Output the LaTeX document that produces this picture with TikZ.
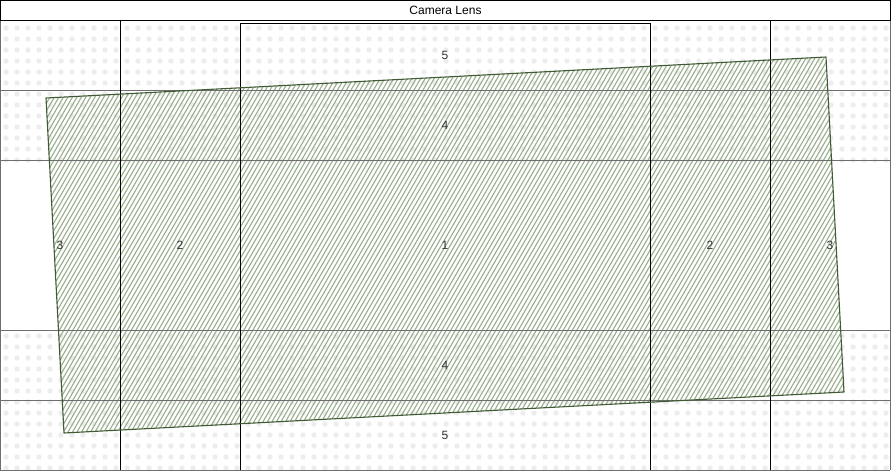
\documentclass[tikz,border=0pt]{standalone}
\usepackage{fontspec}
\setmainfont{Liberation Sans}
\definecolor{dotc}{HTML}{EDEDED}
\definecolor{gridc}{HTML}{6E6E6E}
\definecolor{hatchc}{HTML}{9DB090}
\definecolor{edgec}{HTML}{3F5A34}
\definecolor{txtc}{HTML}{333333}
\begin{document}
\begin{tikzpicture}[x=1pt,y=-1pt,
  hatch/.style={draw=hatchc,line width=1.15pt},
  hline/.style={draw=gridc,line width=1pt},
  vline/.style={draw=black,line width=1pt},
  lbl/.style={text=txtc,font=\fontsize{12}{14}\selectfont,inner sep=0pt},
  titlebox/.style={draw=black,line width=1pt,fill=white,font=\fontsize{12}{14}\selectfont,inner sep=0pt,anchor=north west,minimum width=890pt,minimum height=20pt},
  quad/.style={draw=edgec,line width=1.1pt,line join=round}]
\useasboundingbox (0,0) rectangle (891,471);
\fill[white] (0,0) rectangle (891,471);
% dotted background bands
\foreach \y in {28,39,...,160}{\foreach \x in {6,17,...,890}{\fill[dotc] (\x,\y) circle (2.7pt);}}
\foreach \y in {336,347,...,470}{\foreach \x in {6,17,...,890}{\fill[dotc] (\x,\y) circle (2.7pt);}}
% hatched quadrilateral
\coordinate (A) at (46,98);
\coordinate (B) at (826,57);
\coordinate (C) at (844,392);
\coordinate (D) at (64,433);
\begin{scope}
\clip (A)--(B)--(C)--(D)--cycle;
\foreach \i in {-400,-395.5,...,900}{\draw[hatch] (\i,471) -- ++(272,-471);}
\end{scope}
% grid
\foreach \y in {90,160,330,400,470}{\draw[hline] (0,\y) -- (890,\y);}
\draw[hline] (0,20) -- (0,470);
\draw[hline] (890,20) -- (890,470);
\draw[vline] (120,20) -- (120,470);
\draw[vline] (770,20) -- (770,470);
\draw[vline] (240,470) -- (240,23) -- (650,23) -- (650,470);
% outline
\draw[quad] (A)--(B)--(C)--(D)--cycle;
% title
\node[titlebox] (title) at (0,0) {Camera Lens};
% labels
\node[lbl] (t5) at (445,55) {5};
\node[lbl] (t4) at (445,125) {4};
\node[lbl] (l3) at (60,245) {3};
\node[lbl] (l2) at (180,245) {2};
\node[lbl] (c1) at (445,245) {1};
\node[lbl] (r2) at (710,245) {2};
\node[lbl] (r3) at (830,245) {3};
\node[lbl] (b4) at (445,365) {4};
\node[lbl] (b5) at (445,435) {5};
\end{tikzpicture}
\end{document}
